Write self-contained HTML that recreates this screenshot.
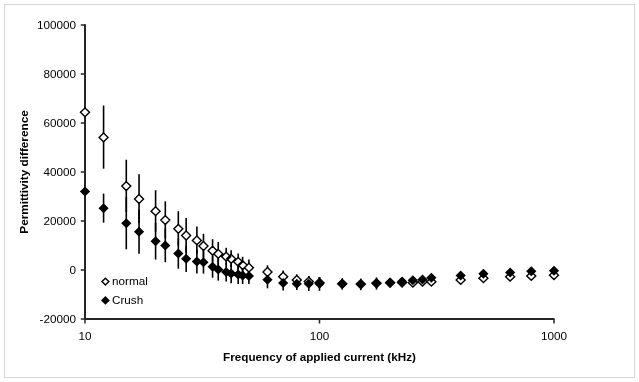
<!DOCTYPE html>
<html><head><meta charset="utf-8"><style>
html,body{margin:0;padding:0;background:#fff;}
body{width:639px;height:382px;overflow:hidden;}
svg{display:block;will-change:transform;}
text{font-family:"Liberation Sans", sans-serif;fill:#000;}
</style></head><body>
<svg width="639" height="382" viewBox="0 0 639 382">
<rect x="0" y="0" width="639" height="382" fill="#fff"/>
<rect x="4.5" y="4.5" width="630" height="373" fill="none" stroke="#d6d6d6" stroke-width="1"/>
<g stroke="#262626" stroke-width="1.5">
<line x1="80.8" y1="25" x2="85" y2="25"/>
<line x1="80.8" y1="74" x2="85" y2="74"/>
<line x1="80.8" y1="123" x2="85" y2="123"/>
<line x1="80.8" y1="172" x2="85" y2="172"/>
<line x1="80.8" y1="221" x2="85" y2="221"/>
<line x1="80.8" y1="270" x2="85" y2="270"/>
<line x1="80.8" y1="319" x2="85" y2="319"/>
<line x1="85.00" y1="319" x2="85.00" y2="323.5"/>
<line x1="319.50" y1="319" x2="319.50" y2="323.5"/>
<line x1="554.00" y1="319" x2="554.00" y2="323.5"/>
</g>
<line x1="85" y1="24.3" x2="85" y2="320" stroke="#262626" stroke-width="2"/>
<line x1="84" y1="319" x2="554.5" y2="319" stroke="#262626" stroke-width="2"/>
<g stroke="#000" stroke-width="1.6">
<line x1="103.57" y1="105.50" x2="103.57" y2="168.70"/>
<line x1="126.29" y1="159.70" x2="126.29" y2="211.90"/>
<line x1="139.04" y1="174.30" x2="139.04" y2="223.10"/>
<line x1="155.59" y1="190.20" x2="155.59" y2="231.60"/>
<line x1="165.30" y1="201.30" x2="165.30" y2="238.30"/>
<line x1="178.32" y1="211.20" x2="178.32" y2="245.80"/>
<line x1="186.15" y1="218.00" x2="186.15" y2="252.40"/>
<line x1="196.88" y1="226.50" x2="196.88" y2="253.70"/>
<line x1="203.46" y1="233.80" x2="203.46" y2="257.60"/>
<line x1="212.58" y1="239.20" x2="212.58" y2="261.60"/>
<line x1="218.24" y1="242.00" x2="218.24" y2="265.00"/>
<line x1="226.18" y1="247.70" x2="226.18" y2="265.10"/>
<line x1="231.15" y1="250.30" x2="231.15" y2="266.70"/>
<line x1="238.18" y1="253.60" x2="238.18" y2="270.40"/>
<line x1="242.61" y1="256.80" x2="242.61" y2="272.80"/>
<line x1="248.91" y1="259.40" x2="248.91" y2="275.40"/>
<line x1="267.48" y1="265.30" x2="267.48" y2="278.10"/>
<line x1="283.18" y1="270.50" x2="283.18" y2="282.30"/>
<line x1="296.77" y1="274.40" x2="296.77" y2="284.80"/>
<line x1="308.77" y1="276.00" x2="308.77" y2="286.60"/>
<line x1="319.50" y1="277.00" x2="319.50" y2="288.00"/>
<line x1="103.57" y1="193.60" x2="103.57" y2="222.70"/>
<line x1="126.29" y1="197.10" x2="126.29" y2="249.30"/>
<line x1="139.04" y1="209.50" x2="139.04" y2="253.70"/>
<line x1="155.59" y1="222.80" x2="155.59" y2="259.60"/>
<line x1="165.30" y1="228.60" x2="165.30" y2="262.20"/>
<line x1="178.32" y1="238.50" x2="178.32" y2="268.70"/>
<line x1="186.15" y1="245.50" x2="186.15" y2="272.10"/>
<line x1="196.88" y1="249.40" x2="196.88" y2="273.60"/>
<line x1="203.46" y1="250.80" x2="203.46" y2="273.60"/>
<line x1="212.58" y1="255.90" x2="212.58" y2="277.70"/>
<line x1="218.24" y1="258.20" x2="218.24" y2="280.60"/>
<line x1="226.18" y1="262.60" x2="226.18" y2="281.40"/>
<line x1="231.15" y1="264.00" x2="231.15" y2="283.30"/>
<line x1="238.18" y1="265.00" x2="238.18" y2="284.00"/>
<line x1="242.61" y1="267.00" x2="242.61" y2="284.00"/>
<line x1="248.91" y1="268.00" x2="248.91" y2="284.00"/>
<line x1="267.48" y1="271.30" x2="267.48" y2="288.30"/>
<line x1="283.18" y1="275.60" x2="283.18" y2="290.40"/>
<line x1="296.77" y1="277.60" x2="296.77" y2="290.00"/>
<line x1="308.77" y1="276.00" x2="308.77" y2="291.00"/>
<line x1="319.50" y1="277.00" x2="319.50" y2="290.80"/>
<line x1="342.23" y1="278.30" x2="342.23" y2="289.60"/>
<line x1="360.79" y1="278.60" x2="360.79" y2="290.20"/>
<line x1="376.49" y1="277.40" x2="376.49" y2="289.60"/>
</g>
<path d="M85.00 107.90L89.50 112.30L85.00 116.70L80.50 112.30Z M103.57 133.00L108.07 137.40L103.57 141.80L99.07 137.40Z M126.29 181.70L130.79 186.10L126.29 190.50L121.79 186.10Z M139.04 194.60L143.54 199.00L139.04 203.40L134.54 199.00Z M155.59 206.80L160.09 211.20L155.59 215.60L151.09 211.20Z M165.30 215.70L169.80 220.10L165.30 224.50L160.80 220.10Z M178.32 224.40L182.82 228.80L178.32 233.20L173.82 228.80Z M186.15 231.10L190.65 235.50L186.15 239.90L181.65 235.50Z M196.88 236.00L201.38 240.40L196.88 244.80L192.38 240.40Z M203.46 241.60L207.96 246.00L203.46 250.40L198.96 246.00Z M212.58 246.30L217.08 250.70L212.58 255.10L208.08 250.70Z M218.24 249.40L222.74 253.80L218.24 258.20L213.74 253.80Z M226.18 252.30L230.68 256.70L226.18 261.10L221.68 256.70Z M231.15 254.40L235.65 258.80L231.15 263.20L226.65 258.80Z M238.18 257.40L242.68 261.80L238.18 266.20L233.68 261.80Z M242.61 260.70L247.11 265.10L242.61 269.50L238.11 265.10Z M248.91 263.30L253.41 267.70L248.91 272.10L244.41 267.70Z M267.48 267.60L271.98 272.00L267.48 276.40L262.98 272.00Z M283.18 272.30L287.68 276.70L283.18 281.10L278.68 276.70Z M296.77 275.50L301.27 279.90L296.77 284.30L292.27 279.90Z M308.77 277.20L313.27 281.60L308.77 286.00L304.27 281.60Z M319.50 278.40L324.00 282.80L319.50 287.20L315.00 282.80Z M342.23 279.40L346.73 283.80L342.23 288.20L337.73 283.80Z M360.79 279.70L365.29 284.10L360.79 288.50L356.29 284.10Z M376.49 278.90L380.99 283.30L376.49 287.70L371.99 283.30Z M390.09 278.40L394.59 282.80L390.09 287.20L385.59 282.80Z M402.09 278.20L406.59 282.60L402.09 287.00L397.59 282.60Z M412.82 278.30L417.32 282.70L412.82 287.10L408.32 282.70Z M422.52 277.30L427.02 281.70L422.52 286.10L418.02 281.70Z M431.38 277.30L435.88 281.70L431.38 286.10L426.88 281.70Z M460.68 275.50L465.18 279.90L460.68 284.30L456.18 279.90Z M483.41 273.80L487.91 278.20L483.41 282.60L478.91 278.20Z M510.13 272.30L514.63 276.70L510.13 281.10L505.63 276.70Z M531.27 271.50L535.77 275.90L531.27 280.30L526.77 275.90Z M554.00 270.80L558.50 275.20L554.00 279.60L549.50 275.20Z" fill="#fff" stroke="#000" stroke-width="1.4" stroke-linejoin="miter"/>
<path d="M85.00 186.50L90.10 191.50L85.00 196.50L79.90 191.50Z M103.57 203.20L108.67 208.20L103.57 213.20L98.47 208.20Z M126.29 218.20L131.39 223.20L126.29 228.20L121.19 223.20Z M139.04 226.70L144.14 231.70L139.04 236.70L133.94 231.70Z M155.59 236.20L160.69 241.20L155.59 246.20L150.49 241.20Z M165.30 240.40L170.40 245.40L165.30 250.40L160.20 245.40Z M178.32 248.60L183.42 253.60L178.32 258.60L173.22 253.60Z M186.15 253.80L191.25 258.80L186.15 263.80L181.05 258.80Z M196.88 256.50L201.98 261.50L196.88 266.50L191.78 261.50Z M203.46 257.20L208.56 262.20L203.46 267.20L198.36 262.20Z M212.58 261.80L217.68 266.80L212.58 271.80L207.48 266.80Z M218.24 264.40L223.34 269.40L218.24 274.40L213.14 269.40Z M226.18 267.00L231.28 272.00L226.18 277.00L221.08 272.00Z M231.15 268.60L236.25 273.60L231.15 278.60L226.05 273.60Z M238.18 269.50L243.28 274.50L238.18 279.50L233.08 274.50Z M242.61 270.50L247.71 275.50L242.61 280.50L237.51 275.50Z M248.91 271.00L254.01 276.00L248.91 281.00L243.81 276.00Z M267.48 274.80L272.58 279.80L267.48 284.80L262.38 279.80Z M283.18 278.00L288.28 283.00L283.18 288.00L278.08 283.00Z M296.77 278.80L301.87 283.80L296.77 288.80L291.67 283.80Z M308.77 278.70L313.87 283.70L308.77 288.70L303.67 283.70Z M319.50 278.70L324.60 283.70L319.50 288.70L314.40 283.70Z M342.23 278.80L347.33 283.80L342.23 288.80L337.13 283.80Z M360.79 279.20L365.89 284.20L360.79 289.20L355.69 284.20Z M376.49 278.00L381.59 283.00L376.49 288.00L371.39 283.00Z M390.09 277.40L395.19 282.40L390.09 287.40L384.99 282.40Z M402.09 276.60L407.19 281.60L402.09 286.60L396.99 281.60Z M412.82 275.30L417.92 280.30L412.82 285.30L407.72 280.30Z M422.52 274.60L427.62 279.60L422.52 284.60L417.42 279.60Z M431.38 272.70L436.48 277.70L431.38 282.70L426.28 277.70Z M460.68 270.60L465.78 275.60L460.68 280.60L455.58 275.60Z M483.41 268.70L488.51 273.70L483.41 278.70L478.31 273.70Z M510.13 267.50L515.23 272.50L510.13 277.50L505.03 272.50Z M531.27 266.20L536.37 271.20L531.27 276.20L526.17 271.20Z M554.00 265.70L559.10 270.70L554.00 275.70L548.90 270.70Z" fill="#000" stroke="none"/>
<g font-size="11.7" text-anchor="end">
<text x="76" y="29">100000</text>
<text x="76" y="78">80000</text>
<text x="76" y="127">60000</text>
<text x="76" y="176">40000</text>
<text x="76" y="225">20000</text>
<text x="76" y="274">0</text>
<text x="76" y="323">-20000</text>
</g>
<g font-size="11.7" text-anchor="middle">
<text x="85.00" y="340">10</text>
<text x="319.50" y="340">100</text>
<text x="554.00" y="340">1000</text>
</g>
<text x="319.5" y="360.5" font-size="11.7" font-weight="bold" text-anchor="middle">Frequency of applied current (kHz)</text>
<text transform="translate(27.8,172) rotate(-90)" font-size="11.75" font-weight="bold" text-anchor="middle">Permittivity difference</text>
<path d="M105.40 278.15L108.85 281.60L105.40 285.05L101.95 281.60Z" fill="#fff" stroke="#000" stroke-width="1.4"/>
<path d="M105.40 296.00L109.80 300.40L105.40 304.80L101.00 300.40Z" fill="#000"/>
<text x="112" y="284.8" font-size="11.7">normal</text>
<text x="112" y="304.1" font-size="11.7">Crush</text>
</svg>
</body></html>
